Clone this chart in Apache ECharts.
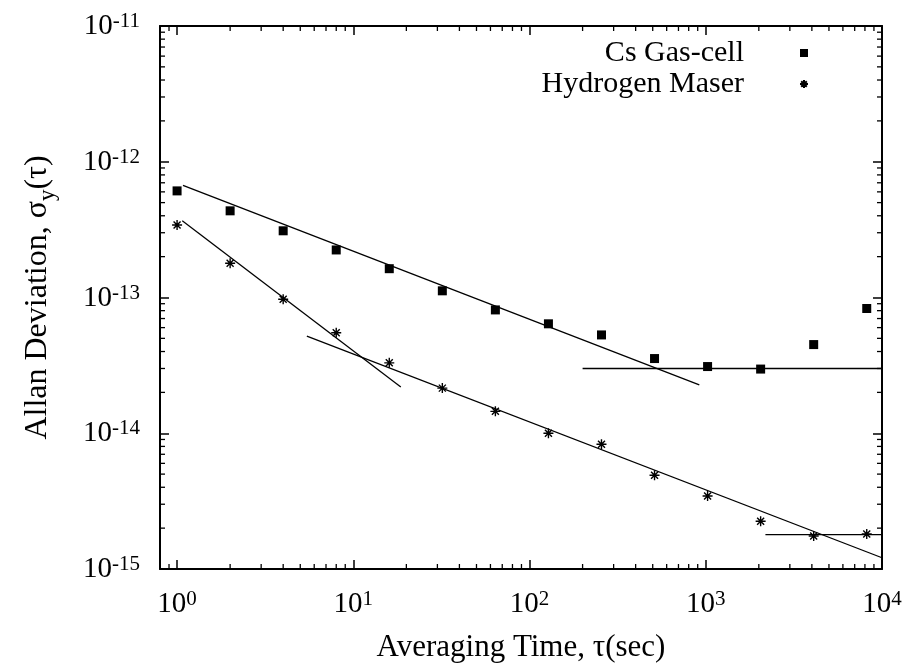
<!DOCTYPE html>
<html><head><meta charset="utf-8">
<script src="https://cdn.jsdelivr.net/npm/echarts@6/dist/echarts.min.js"></script>
<style>html,body{margin:0;padding:0;background:#fff}#c{width:912px;height:670px}</style>
</head><body><div id="c"></div>
<script>
// ---- data ----
const tau = [1, 2, 4, 8, 16, 32, 64, 128, 256, 512, 1024, 2048, 4096, 8192];
const csGasCell = [6.1e-13, 4.35e-13, 3.1e-13, 2.24e-13, 1.63e-13, 1.12e-13, 8.1e-14, 6.4e-14, 5.3e-14, 3.55e-14, 3.1e-14, 2.97e-14, 4.5e-14, 8.3e-14];
const hydrogenMaser = [3.42e-13, 1.79e-13, 9.7e-14, 5.5e-14, 3.3e-14, 2.15e-14, 1.45e-14, 1.0e-14, 8.3e-15, 4.9e-15, 3.45e-15, 2.25e-15, 1.75e-15, 1.81e-15];
// fitted guide lines (endpoints: [tau, sigma])
const csFitShort = [[1.08, 6.71e-13], [919, 2.27e-14]];
const csFloor = [[200, 3.0e-14], [10000, 3.0e-14]];
const hFitShort = [[1.07, 3.68e-13], [18.6, 2.19e-14]];
const hFitLong = [[5.45, 5.2e-14], [10000, 1.21e-15]];
const hFloor = [[2180, 1.79e-15], [10000, 1.79e-15]];
// tick labels (powers of ten)
const xExponents = [0, 1, 2, 3, 4];
const yExponents = [-15, -14, -13, -12, -11];
const seriesNames = ['Cs Gas-cell', 'Hydrogen Maser'];
const xTitle = 'Averaging Time, \u03c4(sec)';

const X_MIN = 0.8, X_MAX = 10000, Y_MIN = 1e-15, Y_MAX = 1e-11;
const FONT = 'Liberation Serif';

function powLabel(exps) {
  return function (v) {
    const e = Math.round(Math.log10(v));
    if (Math.abs(v / Math.pow(10, e) - 1) > 1e-6) return '';
    if (exps.indexOf(e) < 0) return '';
    return '{b|10}{s|' + e + '}';
  };
}
const labelRich = {
  b: { fontFamily: FONT, fontSize: 29, lineHeight: 30, color: '#000', verticalAlign: 'bottom' },
  s: { fontFamily: FONT, fontSize: 21, lineHeight: 21, color: '#000', verticalAlign: 'top', padding: [0, 0, 17, 0] }
};

// minor tick positions (2..9 x 10^k)
const xMinor = [];
const yMinor = [];
[0.1, 1, 10, 100, 1000].forEach(function (d) {
  for (let m = 2; m <= 9; m++) { const v = m * d; if (v > X_MIN && v < X_MAX) xMinor.push(v); }
});
[1e-15, 1e-14, 1e-13, 1e-12].forEach(function (d) {
  for (let m = 2; m <= 9; m++) yMinor.push(m * d);
});

const asterisk = 'path://M5 0L5 10M0 5L10 5M1.5 1.5L8.5 8.5M8.5 1.5L1.5 8.5';

function axisCommon(extra) {
  return Object.assign({
    type: 'log', logBase: 10,
    axisLine: { show: true, onZero: false, lineStyle: { color: '#000', width: 2 } },
    axisTick: { show: true, inside: true, length: 9, lineStyle: { color: '#000', width: 1.5 } },
    splitLine: { show: false },
    minorTick: { show: false }
  }, extra);
}

const lineStyle = { color: '#000', width: 1.3 };
function fitLine(d) {
  return { type: 'line', data: d, symbol: 'none', showSymbol: false, silent: true, lineStyle: lineStyle, z: 1, animation: false };
}

const chart = echarts.init(document.getElementById('c'), null, { renderer: 'canvas' });
chart.setOption({
  animation: false,
  backgroundColor: '#fff',
  grid: { left: 160, right: 30, top: 26, bottom: 101, containLabel: false },
  legend: {
    data: seriesNames,
    orient: 'vertical', align: 'right',
    right: 98, top: 33,
    itemWidth: 8, itemHeight: 8, itemGap: 1,
    textStyle: { fontFamily: FONT, fontSize: 30, lineHeight: 30, color: '#000', padding: [0, 51, 0, 0] },
    selectedMode: false
  },
  xAxis: [
    axisCommon({
      min: X_MIN, max: X_MAX, position: 'bottom',
      axisLabel: { formatter: powLabel(xExponents), rich: labelRich, margin: 20, interval: 0, showMinLabel: true, showMaxLabel: true },
      name: xTitle, nameLocation: 'middle', nameGap: 62,
      nameTextStyle: { fontFamily: FONT, fontSize: 31, lineHeight: 32, color: '#000' }
    }),
    axisCommon({ min: X_MIN, max: X_MAX, position: 'top', axisLabel: { show: false } })
  ],
  yAxis: [
    axisCommon({
      min: Y_MIN, max: Y_MAX, position: 'left',
      axisLabel: { formatter: powLabel(yExponents), rich: labelRich, margin: 20, interval: 0, showMinLabel: true, showMaxLabel: true },
      name: '{t|Allan Deviation, \u03c3}{sub|y}{t|(\u03c4)}', nameLocation: 'middle', nameGap: 106, nameRotate: 90,
      nameTextStyle: {
        rich: {
          t: { fontFamily: FONT, fontSize: 32, lineHeight: 32, color: '#000', verticalAlign: 'top' },
          sub: { fontFamily: FONT, fontSize: 23, lineHeight: 23, color: '#000', verticalAlign: 'top', padding: [14, 0, 0, 0] }
        }
      }
    }),
    axisCommon({ min: Y_MIN, max: Y_MAX, position: 'right', axisLabel: { show: false } })
  ],
  series: [
    fitLine(csFitShort), fitLine(csFloor), fitLine(hFitShort), fitLine(hFitLong), fitLine(hFloor),
    {
      name: seriesNames[0], type: 'scatter', symbol: 'rect', symbolSize: 9,
      data: tau.map(function (t, i) { return [t, csGasCell[i]]; }),
      itemStyle: { color: '#000', opacity: 1 }, z: 3
    },
    {
      name: seriesNames[1], type: 'scatter', symbol: asterisk, symbolSize: 10,
      data: tau.map(function (t, i) { return [t, hydrogenMaser[i]]; }),
      itemStyle: { color: 'rgba(0,0,0,0)', borderColor: '#000', borderWidth: 1.4, opacity: 1 }, z: 3
    },
    {
      type: 'custom', silent: true, z: 2,
      data: xMinor.map(function (v) { return [v, Y_MIN]; }),
      renderItem: function (params, api) {
        const v = api.value(0);
        const a = api.coord([v, Y_MIN]);
        const b = api.coord([v, Y_MAX]);
        const st = { stroke: '#000', lineWidth: 1.3 };
        return { type: 'group', children: [
          { type: 'line', shape: { x1: a[0], y1: a[1], x2: a[0], y2: a[1] - 5 }, style: st },
          { type: 'line', shape: { x1: b[0], y1: b[1], x2: b[0], y2: b[1] + 5 }, style: st }
        ] };
      }
    },
    {
      type: 'custom', silent: true, z: 2,
      data: yMinor.map(function (v) { return [X_MIN, v]; }),
      renderItem: function (params, api) {
        const v = api.value(1);
        const a = api.coord([X_MIN, v]);
        const b = api.coord([X_MAX, v]);
        const st = { stroke: '#000', lineWidth: 1.3 };
        return { type: 'group', children: [
          { type: 'line', shape: { x1: a[0], y1: a[1], x2: a[0] + 5, y2: a[1] }, style: st },
          { type: 'line', shape: { x1: b[0], y1: b[1], x2: b[0] - 5, y2: b[1] }, style: st }
        ] };
      }
    }
  ]
});
</script></body></html>
